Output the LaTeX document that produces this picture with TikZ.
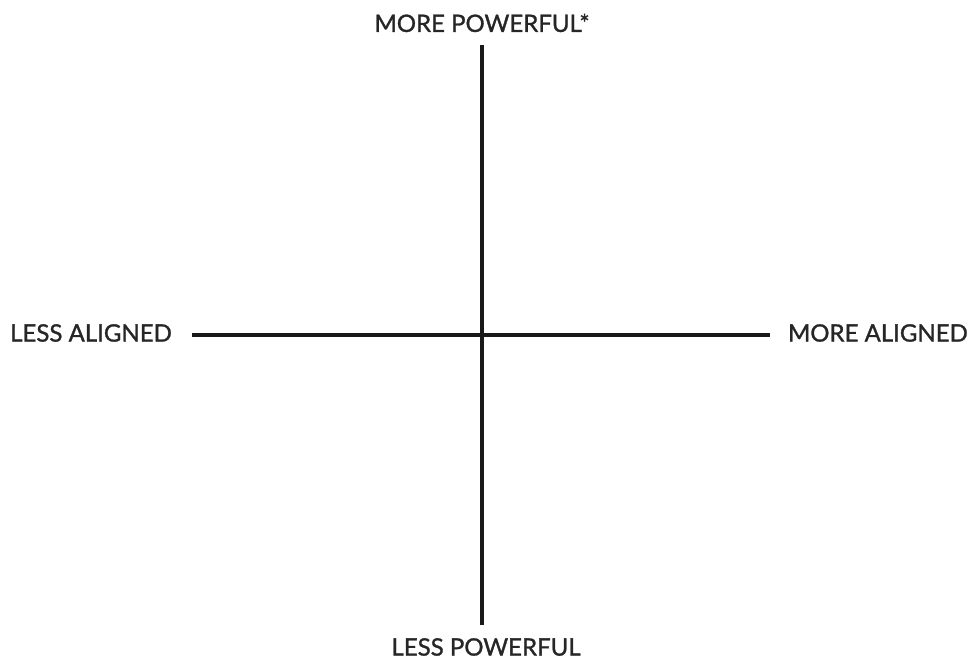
\documentclass[tikz,border=0pt]{standalone}
\usepackage{fontspec}
\setmainfont{Lato}
\newfontfamily\lblfont{Lato}[FakeBold=1.2]
\begin{document}
\begin{tikzpicture}[x=1pt,y=1pt,
  lbl/.style={inner sep=0pt, font=\lblfont\fontsize{24}{26}\selectfont, text=black!85},
  axis/.style={line width=4pt, black!90}]
\useasboundingbox (0,0) rectangle (971,659);
\node[lbl] (top) at (482,636) {MORE POWERFUL*};
\node[lbl] (bot) at (486,12) {LESS POWERFUL};
\node[lbl, anchor=west] (left) at (10,326) {LESS ALIGNED};
\node[lbl, anchor=east] (right) at (968,326) {MORE ALIGNED};
\coordinate (vt) at (482,614);
\coordinate (vb) at (482,34);
\coordinate (hl) at (192,324);
\coordinate (hr) at (770,324);
\draw[axis] (vt) -- (vb);
\draw[axis] (hl) -- (hr);
\end{tikzpicture}
\end{document}
